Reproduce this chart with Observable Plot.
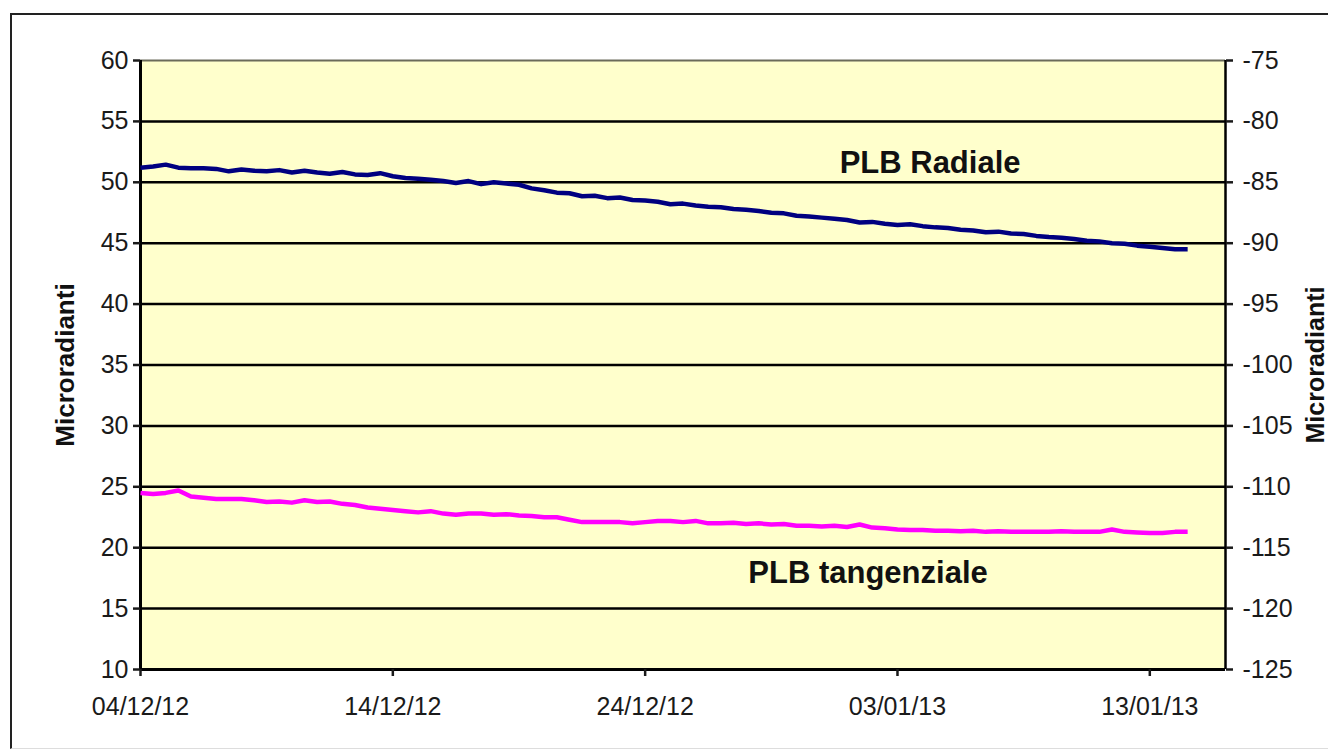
<!DOCTYPE html>
<html>
<head>
<meta charset="utf-8">
<script src="https://cdn.jsdelivr.net/npm/d3@7"></script>
<script src="https://cdn.jsdelivr.net/npm/@observablehq/plot@0.6"></script>
<style>
  html, body { margin: 0; padding: 0; background: #fff; }
  #wrap { position: relative; width: 1328px; height: 751px; overflow: hidden; }
  #border { position: absolute; left: 10px; top: 13px; width: 1400px; height: 733px;
            border-left: 2px solid #222; border-top: 2px solid #222; border-bottom: 1px solid #ddd; pointer-events: none; }
</style>
</head>
<body>
<div id="wrap"><div id="border"></div></div>
<script>
// Sampling: one reading every 12 hours starting 04/12/2012 00:00
const startDate = "2012-12-04T00:00:00Z";
const stepHours = 12;

// PLB Radiale (left axis, microradianti)
const radiale = [
  51.2, 51.3, 51.45, 51.2, 51.15, 51.15, 51.1, 50.9, 51.05, 50.95,
  50.9, 51.0, 50.8, 50.95, 50.8, 50.7, 50.85, 50.65, 50.6, 50.75,
  50.5, 50.35, 50.3, 50.2, 50.1, 49.95, 50.1, 49.85, 50.0, 49.9,
  49.8, 49.5, 49.35, 49.15, 49.1, 48.85, 48.9, 48.7, 48.75, 48.55,
  48.5, 48.4, 48.2, 48.25, 48.1, 48.0, 47.95, 47.8, 47.75, 47.65,
  47.5, 47.45, 47.25, 47.2, 47.1, 47.0, 46.9, 46.7, 46.75, 46.6,
  46.5, 46.55, 46.4, 46.3, 46.25, 46.1, 46.05, 45.9, 45.95, 45.8,
  45.75, 45.6, 45.5, 45.45, 45.35, 45.2, 45.15, 45.0, 44.95, 44.8,
  44.7, 44.6, 44.5, 44.5
];

// PLB tangenziale (left axis, microradianti)
const tangenziale = [
  24.5, 24.4, 24.5, 24.7, 24.2, 24.1, 24.0, 24.0, 24.0, 23.9,
  23.75, 23.8, 23.7, 23.9, 23.75, 23.8, 23.6, 23.5, 23.3, 23.2,
  23.1, 23.0, 22.9, 23.0, 22.8, 22.7, 22.8, 22.8, 22.7, 22.75,
  22.65, 22.6, 22.5, 22.5, 22.3, 22.1, 22.1, 22.1, 22.1, 22.0,
  22.1, 22.2, 22.2, 22.1, 22.2, 22.0, 22.0, 22.05, 21.95, 22.0,
  21.9, 21.95, 21.8, 21.8, 21.75, 21.8, 21.7, 21.9, 21.65, 21.6,
  21.5, 21.45, 21.45, 21.4, 21.4, 21.35, 21.4, 21.3, 21.35, 21.3,
  21.3, 21.3, 21.3, 21.35, 21.3, 21.3, 21.3, 21.5, 21.3, 21.25,
  21.2, 21.2, 21.3, 21.3
];

const seriesNames = ["PLB Radiale", "PLB tangenziale"];
const seriesColors = ["#000080", "#FF00FF"];

const xTickDates = ["2012-12-04", "2012-12-14", "2012-12-24", "2013-01-03", "2013-01-13"];
const xTickLabels = ["04/12/12", "14/12/12", "24/12/12", "03/01/13", "13/01/13"];
const xDomain = ["2012-12-04", "2013-01-16"];

const yTicks = [10, 15, 20, 25, 30, 35, 40, 45, 50, 55, 60];
const yRightLabels = [-125, -120, -115, -110, -105, -100, -95, -90, -85, -80, -75];
const yTitle = "Microradianti";

// annotation positions (date, value) for series labels
const annotDates = ["2013-01-04T07:00:00Z", "2013-01-01T20:00:00Z"];
const annotValues = [51.6, 17.9];

const t0 = new Date(startDate).getTime();
const rows = [];
[radiale, tangenziale].forEach((vals, s) => {
  vals.forEach((v, i) => rows.push({
    series: seriesNames[s],
    date: new Date(t0 + i * stepHours * 3600e3),
    value: v
  }));
});
const annots = seriesNames.map((n, i) => ({label: n, date: new Date(annotDates[i]), value: annotValues[i]}));
const xTicks = xTickDates.map(d => new Date(d + "T00:00:00Z"));
const fmtX = d => xTickLabels[xTicks.findIndex(t => +t === +d)];
const fmtR = d => String(yRightLabels[yTicks.indexOf(d)]);

const x0 = new Date(xDomain[0] + "T00:00:00Z");
const x1 = new Date(xDomain[1] + "T00:00:00Z");

const chart = Plot.plot({
  width: 1328,
  height: 751,
  marginLeft: 140,
  marginRight: 103,
  marginTop: 60,
  marginBottom: 82,
  style: {fontFamily: "'Liberation Sans', Arial, sans-serif", fontSize: "25px", color: "#1a1a1a", background: "transparent"},
  x: {type: "utc", domain: [x0, x1]},
  y: {domain: [10, 60]},
  color: {domain: seriesNames, range: seriesColors},
  marks: [
    Plot.frame({fill: "#FFFFCC", stroke: "none"}),
    Plot.ruleY(yTicks.filter(d => d > 10 && d < 60), {stroke: "#000", strokeWidth: 2.5}),
    Plot.ruleY([60], {stroke: "#6b6b5a", strokeWidth: 2}),
    Plot.ruleY([10], {stroke: "#000", strokeWidth: 3}),
    Plot.ruleX([x0], {stroke: "#000", strokeWidth: 3}),
    Plot.ruleX([x1], {stroke: "#000", strokeWidth: 2.5}),
    Plot.axisY({anchor: "left", ticks: yTicks, tickSize: 7, tickPadding: 5, strokeWidth: 2.5, label: null}),
    Plot.axisY({anchor: "right", ticks: yTicks, tickFormat: fmtR, tickSize: 7, tickPadding: 10, strokeWidth: 2.5, label: null}),
    Plot.axisX({ticks: xTicks, tickFormat: fmtX, tickSize: 7, tickPadding: 21, strokeWidth: 2.5, label: null}),
    Plot.line(rows, {x: "date", y: "value", z: "series", stroke: "series", strokeWidth: 4.5, strokeLinejoin: "round", strokeLinecap: "butt"}),
    Plot.text(annots, {x: "date", y: "value", text: "label", fontWeight: "bold", fontSize: 31, fill: "#111", textAnchor: "middle", lineAnchor: "middle"}),
    Plot.text([yTitle], {frameAnchor: "left", dx: -75, rotate: -90, text: d => d, textAnchor: "middle", lineAnchor: "middle", fontWeight: "bold", fontSize: 26, fill: "#111"}),
    Plot.text([yTitle], {frameAnchor: "right", dx: 90, rotate: -90, text: d => d, textAnchor: "middle", lineAnchor: "middle", fontWeight: "bold", fontSize: 25, fill: "#111"})
  ]
});
chart.style.position = "absolute";
chart.style.left = "0px";
chart.style.top = "0px";
document.getElementById("wrap").appendChild(chart);
</script>
</body>
</html>
